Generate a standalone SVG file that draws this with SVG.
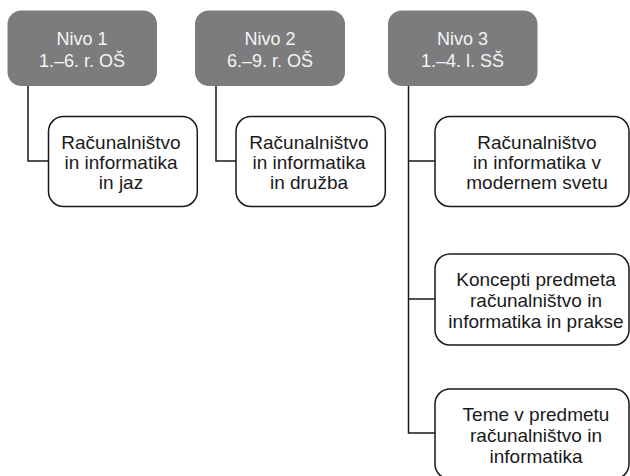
<svg xmlns="http://www.w3.org/2000/svg" width="630" height="476" viewBox="0 0 630 476">
<style>
.lvl{fill:#7c7c7e;stroke:none}
.lvt{fill:#f4f4f4;font-family:"Liberation Sans",Arial,sans-serif;font-size:18px;text-anchor:middle}
.box{fill:#ffffff;stroke:#1a1a1a;stroke-width:1.5}
.bt{fill:#1a1a1a;font-family:"Liberation Sans",Arial,sans-serif;font-size:19px;text-anchor:middle}
.con{fill:none;stroke:#1a1a1a;stroke-width:1.5}
</style>
<rect width="630" height="476" fill="#ffffff"/>
<g id="connectors">
<path class="con" d="M28,86 V161 H48.5"/>
<path class="con" d="M216,86 V161 H236"/>
<path class="con" d="M408.5,86 V433 H435"/>
<path class="con" d="M408.5,161 H435"/>
<path class="con" d="M408.5,299 H435"/>
</g>
<g id="nivo1">
<rect class="lvl" x="7.5" y="10.5" width="149.5" height="75.5" rx="14"/>
<text class="lvt" x="82" y="45">Nivo 1</text>
<text class="lvt" x="82" y="67">1.–6. r. OŠ</text>
</g>
<g id="nivo2">
<rect class="lvl" x="195" y="10.5" width="150" height="75.5" rx="14"/>
<text class="lvt" x="270" y="45">Nivo 2</text>
<text class="lvt" x="270" y="67">6.–9. r. OŠ</text>
</g>
<g id="nivo3">
<rect class="lvl" x="388" y="10.5" width="149.5" height="75.5" rx="14"/>
<text class="lvt" x="462.5" y="45">Nivo 3</text>
<text class="lvt" x="462.5" y="67">1.–4. l. SŠ</text>
</g>
<g id="n1a">
<rect class="box" x="48.5" y="116.5" width="148.8" height="90" rx="15"/>
<text class="bt" x="121" y="149">Računalništvo</text>
<text class="bt" x="121" y="169">in informatika</text>
<text class="bt" x="121" y="189">in jaz</text>
</g>
<g id="n2a">
<rect class="box" x="236" y="116.5" width="149.3" height="90" rx="15"/>
<text class="bt" x="309" y="149">Računalništvo</text>
<text class="bt" x="309" y="169">in informatika</text>
<text class="bt" x="309" y="189">in družba</text>
</g>
<g id="n3a">
<rect class="box" x="435" y="116.5" width="194" height="90" rx="15"/>
<text class="bt" x="537" y="149">Računalništvo</text>
<text class="bt" x="537" y="169">in informatika v</text>
<text class="bt" x="537" y="189">modernem svetu</text>
</g>
<g id="n3b">
<rect class="box" x="435" y="254" width="194" height="91" rx="15"/>
<text class="bt" x="536" y="286">Koncepti predmeta</text>
<text class="bt" x="536" y="307">računalništvo in</text>
<text class="bt" x="536" y="328">informatika in prakse</text>
</g>
<g id="n3c">
<rect class="box" x="435" y="389" width="194" height="90" rx="15"/>
<text class="bt" x="536" y="421">Teme v predmetu</text>
<text class="bt" x="536" y="442">računalništvo in</text>
<text class="bt" x="536" y="463">informatika</text>
</g>
</svg>
